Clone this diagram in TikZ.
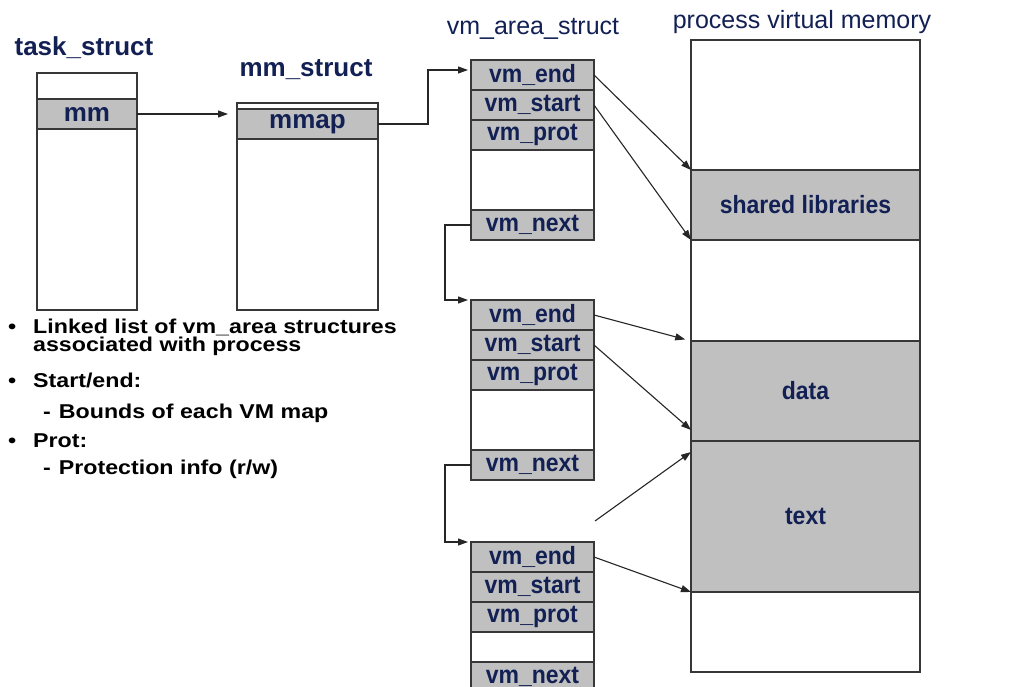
\documentclass[tikz,border=0pt]{standalone}
\usepackage{fontspec}
\setmainfont{Liberation Sans}
\newfontfamily\widesans[FakeStretch=1.16]{Liberation Sans}
\newfontfamily\narrowsans[FakeStretch=0.92]{Liberation Sans}
\usetikzlibrary{arrows.meta,positioning}
\definecolor{navy}{RGB}{18,32,84}
\definecolor{cellgray}{RGB}{192,192,192}
\definecolor{boxline}{RGB}{55,55,55}

\begin{document}
\begin{tikzpicture}[x=1pt, y=-1pt,
    field/.style={rectangle, draw=boxline, line width=1.3pt, fill=cellgray, minimum width=123pt, minimum height=30pt, inner sep=0pt, outer sep=0pt, text=navy, font=\narrowsans\bfseries\fontsize{25}{25}\selectfont},
    blank/.style={rectangle, draw=boxline, line width=1.3pt, fill=white, inner sep=0pt, outer sep=0pt},
    heading/.style={text=navy, font=\fontsize{25}{25}\selectfont},
    link/.style={draw=black!85, line width=1.1pt, -{Triangle[length=10pt,width=7pt]}},
    note/.style={anchor=base west, inner sep=0pt, font=\widesans\bfseries\fontsize{20}{20}\selectfont}
]
    \useasboundingbox[fill=white] (0,0) rectangle (1016,687);

    % Headings
    \node[heading, font=\bfseries\fontsize{26}{26}\selectfont] (tstitle) at (84,48) {task\_struct};
    \node[heading, font=\bfseries\fontsize{26}{26}\selectfont] (mstitle) at (306,70) {mm\_struct};
    \node[heading] (vmtitle) at (533,29) {vm\_area\_struct};
    \node[heading] (pmtitle) at (802,22) {process virtual memory};

    % task_struct
    \node[blank, minimum width=100pt, minimum height=26pt] (ts0) at (87,86) {};
    \node[field, minimum width=100pt, font=\bfseries\fontsize{26}{26}\selectfont, below=0pt of ts0] (ts1) {mm};
    \node[blank, minimum width=100pt, minimum height=181pt, below=0pt of ts1] (ts2) {};

    % mm_struct
    \node[blank, minimum width=141pt, minimum height=6pt] (ms0) at (307.5,106) {};
    \node[field, minimum width=141pt, font=\bfseries\fontsize{26}{26}\selectfont, below=0pt of ms0] (ms1) {mmap};
    \node[blank, minimum width=141pt, minimum height=171pt, below=0pt of ms1] (ms2) {};

    % vm_area_struct list
    \foreach \k/\t/\g in {1/60/60, 2/300/60, 3/542/30}{
        \node[field] (end\k) at (532.5,\t+15) {vm\_end};
        \node[field, below=0pt of end\k] (start\k) {vm\_start};
        \node[field, below=0pt of start\k] (prot\k) {vm\_prot};
        \node[blank, minimum width=123pt, minimum height=\g pt, below=0pt of prot\k] (gap\k) {};
        \node[field, below=0pt of gap\k] (next\k) {vm\_next};
    }

    % process virtual memory
    \node[blank, minimum width=229pt, minimum height=130pt] (pm0) at (805.5,105) {};
    \node[field, minimum width=229pt, minimum height=70pt, below=0pt of pm0] (pm1) {shared libraries};
    \node[blank, minimum width=229pt, minimum height=101pt, below=0pt of pm1] (pm2) {};
    \node[field, minimum width=229pt, minimum height=100pt, below=0pt of pm2] (pm3) {data};
    \node[field, minimum width=229pt, minimum height=151pt, below=0pt of pm3] (pm4) {text};
    \node[blank, minimum width=229pt, minimum height=80pt, below=0pt of pm4] (pm5) {};

    % pointers
    \draw[link, shorten >=9pt] (ts1.east) -- (ts1.east -| ms1.west);
    \draw[link, shorten >=3pt] (ms1.east) -- ++(50,0) |- ([yshift=5pt]end1.west);
    \draw[link, shorten >=3pt] (next1.west) -- ++(-26,0) |- (end2.north west);
    \draw[link, shorten >=3pt] (next2.west) -- ++(-26,0) |- (end3.north west);

    % bounds into memory
    \draw[link] (end1.east) -- (pm0.south west);
    \draw[link] (start1.east) -- (pm1.south west);
    \draw[link, shorten >=6pt] (end2.east) -- (pm2.south west);
    \draw[link] (start2.east) -- ([yshift=11pt]pm3.south west);
    \coordinate (loose) at (595,521);
    \draw[link] (loose) -- ([yshift=-11pt]pm4.north west);
    \draw[link] (end3.east) -- (pm4.south west);

    % notes
    \node[note] (b1) at (8,333) {•};
    \node[note] (n1) at (33,333) {Linked list of vm\_area structures};
    \node[note] (n2) at (33,351) {associated with process};
    \node[note] (b2) at (8,387) {•};
    \node[note] (n3) at (33,387) {Start/end:};
    \node[note] (n4) at (43,418) {-\hspace{8pt}Bounds of each VM map};
    \node[note] (b3) at (8,447) {•};
    \node[note] (n5) at (33,447) {Prot:};
    \node[note] (n6) at (43,474) {-\hspace{8pt}Protection info (r/w)};
\end{tikzpicture}
\end{document}
